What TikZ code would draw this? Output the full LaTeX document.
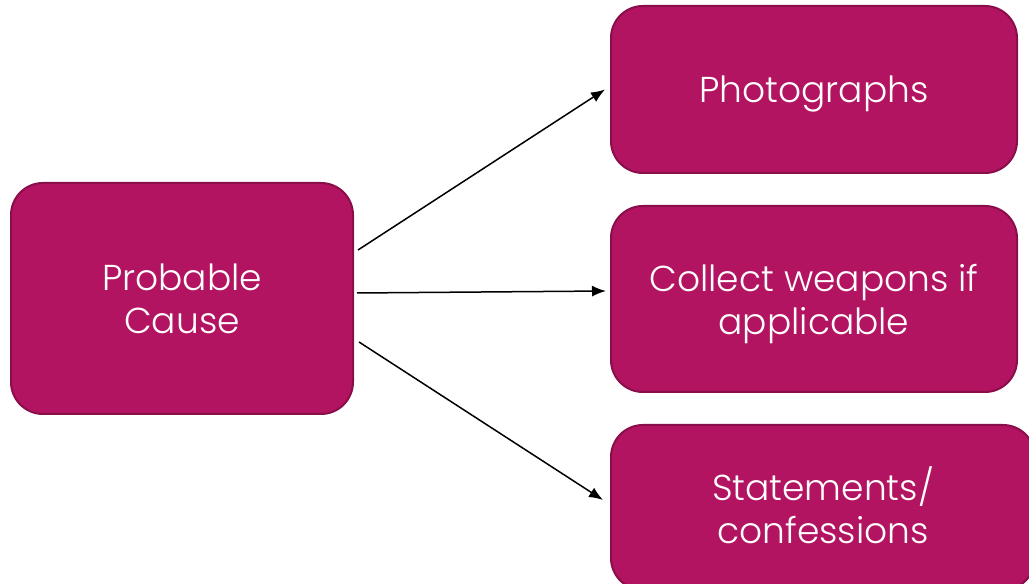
\documentclass[tikz,border=0pt]{standalone}
\usepackage{fontspec}
\setmainfont{Poppins}[UprightFont={* Light}]
\usetikzlibrary{arrows.meta}
\definecolor{boxfill}{RGB}{179,20,98}
\definecolor{boxline}{RGB}{138,14,74}
\begin{document}
\begin{tikzpicture}[x=1pt,y=1pt,
    box/.style={draw=boxline,line width=2pt,fill=boxfill,rounded corners=32pt,inner sep=0pt},
    lbl/.style={text=white,align=center,font=\fontsize{36}{43}\selectfont,inner sep=0pt},
    arr/.style={-{Latex[length=14pt,width=11pt]},line width=1.5pt}]
  \useasboundingbox (0,0) rectangle (1029,584);
  \clip (0,0) rectangle (1029,584);
  % boxes
  \node[box,minimum width=342pt,minimum height=231pt,
    label={[lbl]center:{Probable\\Cause}}] (cause) at (182,285.5) {};
  \node[box,minimum width=406pt,minimum height=167pt,
    label={[lbl,yshift=-5pt]center:Photographs}] (photo) at (814,494.5) {};
  \node[box,minimum width=406pt,minimum height=186pt,
    label={[lbl,yshift=-5pt]center:{Collect weapons if\\applicable}}] (weapon) at (814,285) {};
  \node[box,minimum width=424pt,minimum height=165pt,
    label={[lbl,yshift=2pt]center:{Statements/\\confessions}}] (stmt) at (823,76.5) {};
  % arrows
  \draw[arr] ([xshift=4pt,yshift=48.5pt]cause.east) -- ([xshift=-5pt]photo.west);
  \draw[arr] ([xshift=3pt,yshift=5.5pt]cause.east) -- ([xshift=-4pt,yshift=8pt]weapon.west);
  \draw[arr] ([xshift=5pt,yshift=-43.5pt]cause.east) -- ([xshift=-7pt,yshift=7.5pt]stmt.west);
\end{tikzpicture}
\end{document}
